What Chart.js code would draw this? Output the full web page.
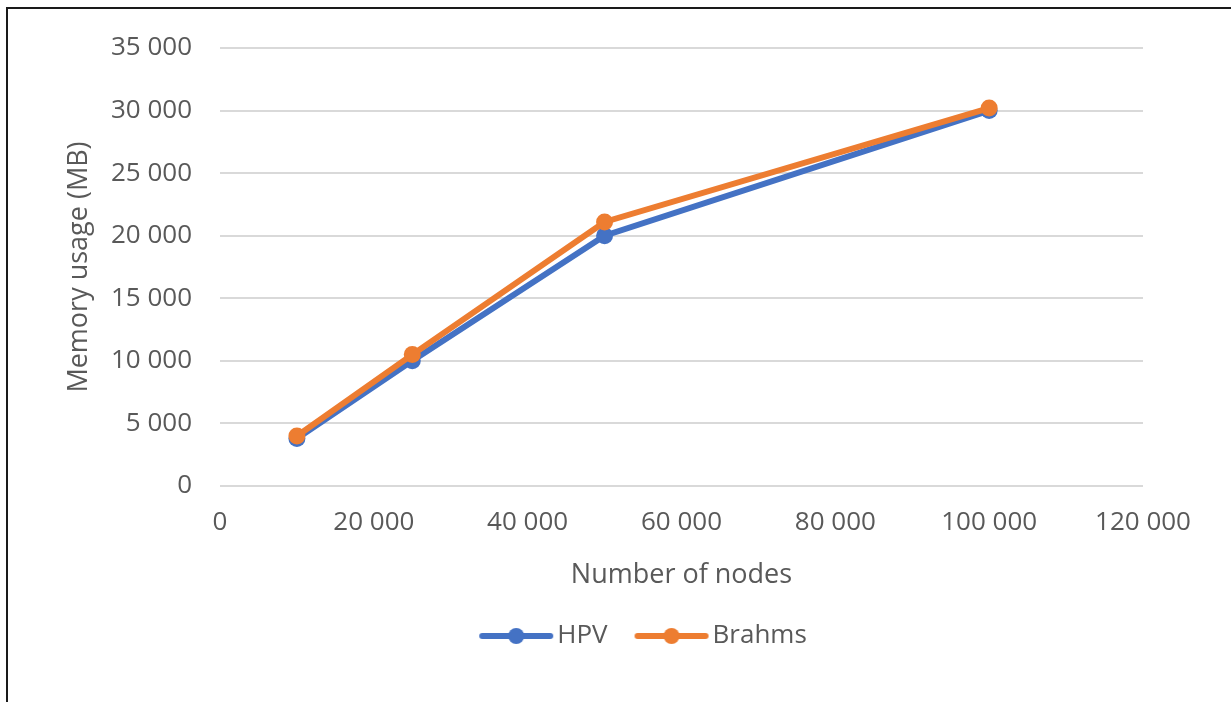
<!DOCTYPE html>
<html>
<head>
<meta charset="utf-8">
<script src="https://cdn.jsdelivr.net/npm/chart.js@4"></script>
<style>
  html, body { margin: 0; padding: 0; background: #fff; }
  #wrap { position: relative; width: 1231px; height: 702px; }
  #frame {
    position: absolute; left: 6px; top: 7px; right: 0; bottom: 0;
    border-left: 2px solid #1a1a1a; border-top: 2px solid #1a1a1a;
    pointer-events: none;
  }
</style>
</head>
<body>
<div id="wrap">
  <canvas id="chart" width="1231" height="702"></canvas>
  <div id="frame"></div>
</div>
<script>
// Memory usage vs number of nodes

const nodes = [10000, 25000, 50000, 100000];
const hpvMemory = [3800, 10000, 20000, 30000];
const brahmsMemory = [4000, 10500, 21100, 30200];

const HPV_COLOR = '#4472C4';
const BRAHMS_COLOR = '#ED7D31';
const TEXT_COLOR = '#595959';
const GRID_COLOR = '#d9d9d9';
const FONT = '"Open Sans", "Noto Sans", sans-serif';

function fmtSpace(v) {
  return String(v).replace(/\B(?=(\d{3})+(?!\d))/g, ' ');
}

function toPoints(xs, ys) {
  return xs.map((x, i) => ({ x, y: ys[i] }));
}

// legend marker: short line with a dot, drawn at the right end of a wider
// transparent image so it sits next to the label text
function legendMarker(color) {
  const c = document.createElement('canvas');
  c.width = 102; c.height = 20;
  const g = c.getContext('2d');
  const x0 = 102 - 76;
  g.strokeStyle = color;
  g.lineWidth = 6;
  g.lineCap = 'round';
  g.beginPath(); g.moveTo(x0 + 3, 10); g.lineTo(x0 + 71, 10); g.stroke();
  g.fillStyle = color;
  g.beginPath(); g.arc(x0 + 37, 10, 8, 0, Math.PI * 2); g.fill();
  return c;
}

function makeDataset(label, color, values, order) {
  return {
    label,
    data: toPoints(nodes, values),
    borderColor: color,
    backgroundColor: color,
    borderWidth: 6,
    pointRadius: 8.5,
    pointHoverRadius: 8.5,
    pointBorderWidth: 0,
    tension: 0,
    order,
    pointStyle: 'circle',
    legendImg: legendMarker(color),
  };
}

// nudge the legend right: it is centred under the plot in the original
const legendShift = {
  id: 'legendShift',
  afterLayout(chart) {
    chart.legend.left += 36;
    chart.legend.right += 36;
  },
};

const ctx = document.getElementById('chart').getContext('2d');
new Chart(ctx, {
  type: 'line',
  data: {
    datasets: [
      makeDataset('HPV', HPV_COLOR, hpvMemory, 1),
      makeDataset('Brahms', BRAHMS_COLOR, brahmsMemory, 0),
    ],
  },
  plugins: [legendShift],
  options: {
    responsive: false,
    animation: false,
    layout: { padding: { left: 56, right: 88, top: 48, bottom: 43 } },
    plugins: {
      tooltip: { enabled: false },
      legend: {
        position: 'bottom',
        labels: {
          color: TEXT_COLOR,
          font: { size: 26, family: FONT },
          usePointStyle: true,
          pointStyleWidth: 80,
          padding: 12,
          sort: (a, b) => a.datasetIndex - b.datasetIndex,
          generateLabels(chart) {
            const labels = Chart.defaults.plugins.legend.labels.generateLabels(chart);
            labels.forEach(l => {
              l.pointStyle = chart.data.datasets[l.datasetIndex].legendImg;
            });
            return labels;
          },
        },
      },
    },
    scales: {
      x: {
        type: 'linear',
        min: 0,
        max: 120000,
        grid: { display: false, drawTicks: false },
        border: { display: false },
        ticks: {
          stepSize: 20000,
          color: TEXT_COLOR,
          padding: 21,
          font: { size: 26, family: FONT },
          maxRotation: 0,
          callback: fmtSpace,
        },
        title: {
          display: true,
          text: 'Number of nodes',
          color: TEXT_COLOR,
          font: { size: 27, family: FONT },
          padding: { top: 0, bottom: 19 },
        },
        afterFit(scale) { scale.height = 125; },
      },
      y: {
        min: 0,
        max: 35000,
        grid: { color: GRID_COLOR, lineWidth: 2, drawTicks: false },
        border: { display: false },
        ticks: {
          stepSize: 5000,
          color: TEXT_COLOR,
          padding: 28,
          font: { size: 26, family: FONT },
          callback: fmtSpace,
        },
        title: {
          display: true,
          text: 'Memory usage (MB)',
          color: TEXT_COLOR,
          font: { size: 27, family: FONT },
          padding: { top: 7, bottom: 0 },
        },
        afterFit(scale) { scale.width = 164; },
      },
    },
  },
});
</script>
</body>
</html>
